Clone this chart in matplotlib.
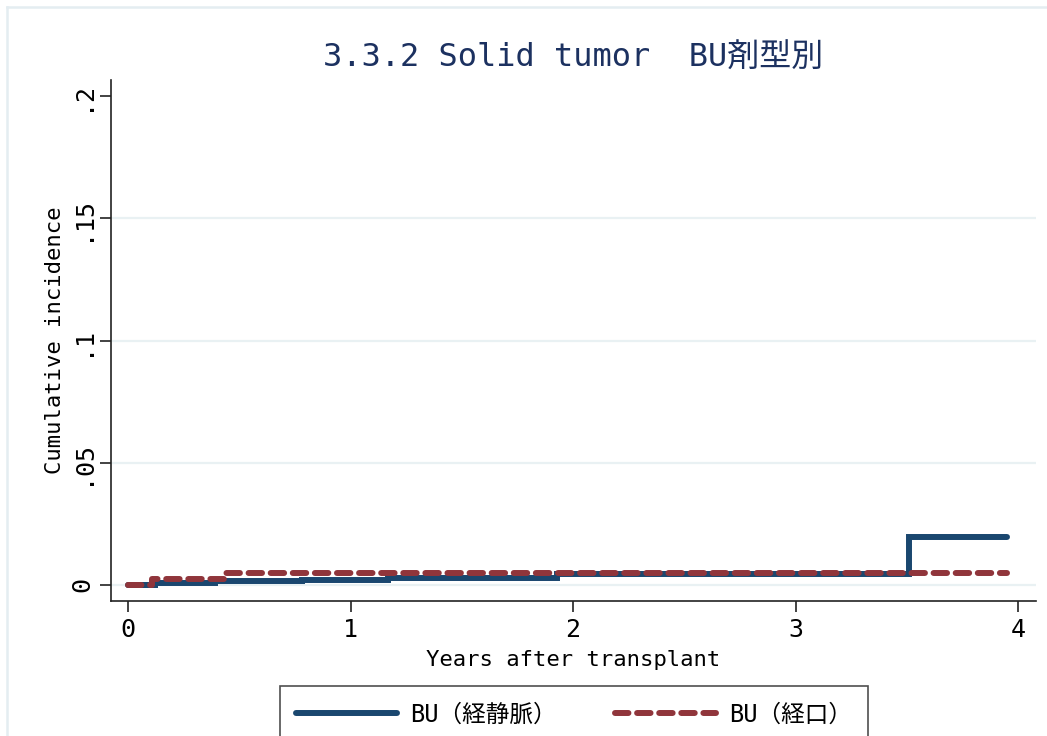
import matplotlib
matplotlib.use("Agg")
import matplotlib.pyplot as plt
from matplotlib.lines import Line2D

plt.rcParams['font.family'] = ['DejaVu Sans Mono', 'Noto Sans CJK JP']

# Data
blue_times = [0, 0.12, 0.39, 0.78, 1.17, 1.93, 3.51, 3.95]
blue_values = [0, 0.0008, 0.0015, 0.0022, 0.0030, 0.0045, 0.0198, 0.0198]
red_times = [0, 0.11, 0.43, 3.95]
red_values = [0, 0.0025, 0.005, 0.005]

x_ticks = [0, 1, 2, 3, 4]
x_tick_labels = ["0", "1", "2", "3", "4"]
y_ticks = [0, 0.05, 0.1, 0.15, 0.2]
y_tick_labels = ["0", ".05", ".1", ".15", ".2"]

title = "3.3.2 Solid tumor  BU剤型別"
xlabel = "Years after transplant"
ylabel = "Cumulative incidence"
legend_labels = ["BU（経静脈）", "BU（経口）"]

BLUE = "#1a476f"
RED = "#90353b"
GRID = "#e9f1f3"

W, H = 1047, 736
fig = plt.figure(figsize=(W / 100, H / 100), dpi=100)
fig.patch.set_facecolor("white")

ax = fig.add_axes([111 / W, 1 - 601 / H, (1036 - 111) / W, (601 - 80) / H])

ax.set_xlim((111 - 128) / 222.5, (1036 - 128) / 222.5)
ax.set_ylim(-(601 - 585) / 2445, 0.2 + (96 - 80) / 2445)

for yv in y_ticks[:-1]:
    ax.axhline(yv, color=GRID, lw=1.6, zorder=0)

lw = 4.3
l1, = ax.step(blue_times, blue_values, where='post', color=BLUE, lw=lw,
              solid_capstyle='round', solid_joinstyle='miter', zorder=3,
              label=legend_labels[0])
l2, = ax.step(red_times, red_values, where='post', color=RED, lw=lw,
              dash_capstyle='round', linestyle=(0, (2.25, 1.45)), zorder=4,
              label=legend_labels[1])

ax.spines['top'].set_visible(False)
ax.spines['right'].set_visible(False)
for s in ['left', 'bottom']:
    ax.spines[s].set_linewidth(1.2)
    ax.spines[s].set_color('#222222')

ax.set_xticks(x_ticks)
ax.set_xticklabels(x_tick_labels, fontsize=18)
ax.set_yticks(y_ticks)
ax.set_yticklabels(y_tick_labels, fontsize=18, rotation=90, va='center')
ax.tick_params(axis='both', length=8, width=1.2, color='#222222', pad=4)

ax.set_xlabel(xlabel, fontsize=16, labelpad=6)
ax.set_ylabel(ylabel, fontsize=16, labelpad=4)

fig.text((111 + 1036) / 2 / W, 1 - 58 / H, title, fontsize=23,
         color="#1c3160", ha='center', va='center')

leg = fig.legend(handles=[l1, l2], labels=legend_labels, loc='upper center',
                 bbox_to_anchor=(574 / W, 1 - 686 / H), ncol=2, fontsize=17,
                 handlelength=4.25, handletextpad=0.55, columnspacing=2.5,
                 borderpad=0.7, borderaxespad=0, frameon=True, fancybox=False)
leg.get_frame().set_edgecolor('#222222')
leg.get_frame().set_linewidth(1.2)

# outer light border
fig.add_artist(Line2D([7 / W, 7 / W], [0, 1 - 7 / H], transform=fig.transFigure,
                      color='#e4edf1', lw=1.8))
fig.add_artist(Line2D([7 / W, 1], [1 - 7 / H, 1 - 7 / H], transform=fig.transFigure,
                      color='#e4edf1', lw=1.8))

fig.savefig("out.png", dpi=100)
